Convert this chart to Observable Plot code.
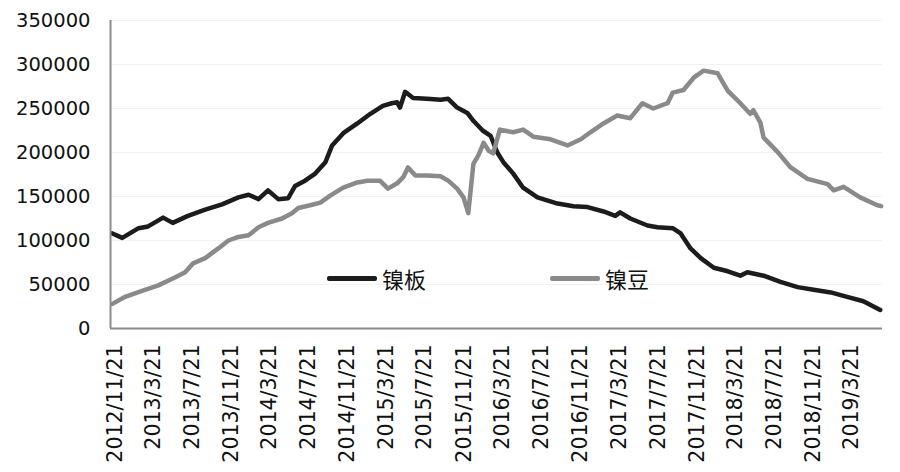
<!DOCTYPE html>
<html>
<head>
<meta charset="utf-8">
<script src="https://cdn.jsdelivr.net/npm/d3@7"></script>
<script src="https://cdn.jsdelivr.net/npm/@observablehq/plot@0.6"></script>
<style>
  html, body { margin: 0; padding: 0; background: #fff; }
  #wrap { position: relative; width: 900px; height: 472px; font-family: "DejaVu Sans", sans-serif; }
  .leg { position: absolute; display: flex; align-items: center; font-family: "Noto Sans CJK SC", sans-serif; font-size: 22px; color: #111; }
  .leg span.sw { display: inline-block; width: 50px; height: 5px; border-radius: 2px; margin-right: 5px; }
</style>
</head>
<body>
<div id="wrap"></div>
<script>
// 镍板 (nickel plate) series
const bandDates = ["2012-11-13","2012-12-14","2013-02-03","2013-03-05","2013-04-21","2013-05-21","2013-07-08","2013-08-31","2013-10-23","2013-12-13","2014-01-14","2014-02-14","2014-03-16","2014-04-17","2014-05-18","2014-06-09","2014-07-10","2014-08-11","2014-09-12","2014-10-03","2014-11-07","2014-12-21","2015-01-31","2015-03-11","2015-04-08","2015-04-25","2015-05-04","2015-05-20","2015-06-14","2015-07-27","2015-09-08","2015-10-02","2015-10-30","2015-12-01","2015-12-20","2016-01-18","2016-02-12","2016-03-04","2016-03-23","2016-04-23","2016-05-24","2016-07-08","2016-09-09","2016-10-29","2016-12-12","2017-01-31","2017-03-09","2017-03-24","2017-04-25","2017-06-18","2017-07-19","2017-09-05","2017-09-30","2017-10-31","2017-12-02","2018-01-12","2018-02-25","2018-04-05","2018-04-27","2018-06-17","2018-08-09","2018-10-02","2018-11-21","2019-01-14","2019-03-06","2019-04-26","2019-06-18"];
const bandValues = [108000,103000,114000,116000,126000,120000,128000,135000,141000,149000,152000,147000,157000,147000,148000,162000,168000,176000,189000,208000,222000,233000,244000,253000,256000,257000,251000,269000,262000,261000,260000,261000,251000,245000,236000,225000,219000,200000,189000,176000,160000,149000,142000,139000,138000,133000,128000,132000,125000,117000,115000,114000,108000,91000,80000,69000,65000,60000,64000,60000,53000,47000,44000,41000,36000,31000,21000];

// 镍豆 (nickel beans) series
const beanDates = ["2012-11-13","2012-12-23","2013-02-16","2013-04-06","2013-05-28","2013-06-29","2013-07-24","2013-08-31","2013-10-11","2013-11-12","2013-12-13","2014-01-14","2014-02-14","2014-03-16","2014-04-29","2014-05-30","2014-06-19","2014-07-26","2014-08-27","2014-09-27","2014-11-07","2014-12-21","2015-01-22","2015-03-02","2015-03-27","2015-04-25","2015-05-14","2015-05-29","2015-06-21","2015-07-27","2015-09-08","2015-10-02","2015-10-30","2015-11-19","2015-12-04","2015-12-20","2016-01-05","2016-01-21","2016-02-06","2016-02-20","2016-03-12","2016-04-23","2016-05-24","2016-06-25","2016-08-18","2016-10-10","2016-11-21","2016-12-21","2017-01-31","2017-03-15","2017-04-25","2017-06-02","2017-07-06","2017-08-20","2017-09-05","2017-10-09","2017-11-10","2017-12-11","2018-01-24","2018-02-12","2018-02-25","2018-04-05","2018-05-06","2018-05-16","2018-06-07","2018-06-17","2018-07-30","2018-09-10","2018-11-02","2019-01-04","2019-01-23","2019-02-23","2019-04-16","2019-06-09","2019-06-21"];
const beanValues = [28000,36000,43000,49000,58000,64000,74000,80000,91000,100000,104000,106000,115000,120000,125000,131000,137000,140000,143000,151000,160000,166000,168000,168000,159000,165000,172000,183000,174000,174000,173000,168000,159000,149000,131000,187000,197000,211000,202000,199000,226000,223000,226000,218000,215000,208000,215000,223000,233000,242000,239000,256000,250000,256000,268000,271000,285000,293000,290000,278000,270000,256000,244000,248000,234000,217000,201000,183000,170000,164000,157000,161000,149000,140000,139000];

const seriesNames = ["镍板", "镍豆"];
const seriesColors = ["#1c1c1c", "#8a8a8a"];

const tickLabels = ["2012/11/21","2013/3/21","2013/7/21","2013/11/21","2014/3/21","2014/7/21","2014/11/21","2015/3/21","2015/7/21","2015/11/21","2016/3/21","2016/7/21","2016/11/21","2017/3/21","2017/7/21","2017/11/21","2018/3/21","2018/7/21","2018/11/21","2019/3/21"];
const yTicks = [0,50000,100000,150000,200000,250000,300000,350000];

const parse = s => new Date(s + "T00:00:00");
const parseSlash = s => { const [y,m,d] = s.split("/").map(Number); return new Date(y, m-1, d); };
const fmt = d => `${d.getFullYear()}/${d.getMonth()+1}/${d.getDate()}`;

const data = [
  ...bandDates.map((d,i) => ({date: parse(d), value: bandValues[i], series: seriesNames[0]})),
  ...beanDates.map((d,i) => ({date: parse(d), value: beanValues[i], series: seriesNames[1]}))
];

const plot = Plot.plot({
  width: 900,
  height: 472,
  marginLeft: 110,
  marginRight: 18,
  marginTop: 20,
  marginBottom: 144,
  style: {fontFamily: "DejaVu Sans, sans-serif", fontSize: "19px", color: "#111", background: "#fff"},
  x: {type: "time", domain: [parse("2012-11-07"), parse("2019-06-25")]},
  y: {domain: [0, 350000]},
  color: {domain: seriesNames, range: seriesColors},
  marks: [
    Plot.ruleY(yTicks.slice(1), {stroke: "#f2f2f2", strokeWidth: 1}),
    Plot.line(data, {x: "date", y: "value", z: "series", stroke: "series", strokeWidth: 4.5, strokeLinejoin: "round", strokeLinecap: "round", curve: "linear"}),
    Plot.ruleX([parse("2012-11-07")], {stroke: "#8c8c8c", strokeWidth: 2}),
    Plot.ruleY([0], {stroke: "#8c8c8c", strokeWidth: 2}),
    Plot.axisY({ticks: yTicks, tickSize: 0, tickPadding: 20, tickFormat: d => String(d), fill: "#111", label: null, fontSize: 19.5}),
    Plot.axisX({ticks: tickLabels.map(parseSlash), tickSize: 0, tickPadding: 16, tickRotate: -90, tickFormat: fmt, fill: "#111", label: null, fontSize: 20.5})
  ]
});

const wrap = document.getElementById("wrap");
wrap.appendChild(plot);

// legend inside the plot area
const legendPos = [[327, 262], [550, 262]];
seriesNames.forEach((name, i) => {
  const el = document.createElement("div");
  el.className = "leg";
  el.style.left = legendPos[i][0] + "px";
  el.style.top = legendPos[i][1] + "px";
  el.innerHTML = `<span class="sw" style="background:${seriesColors[i]}"></span>${name}`;
  wrap.appendChild(el);
});
</script>
</body>
</html>
